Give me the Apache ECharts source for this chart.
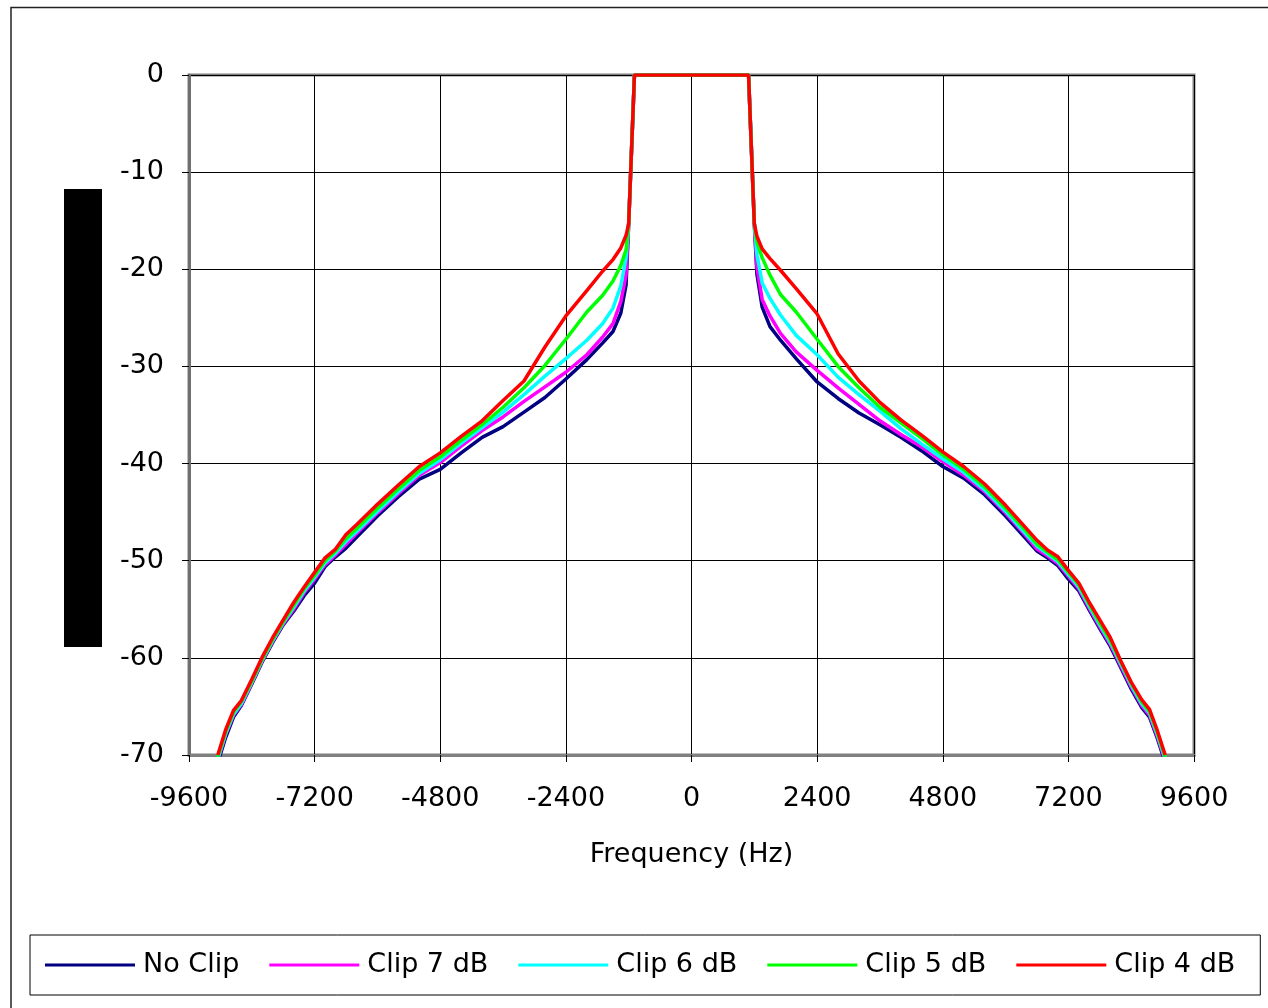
<!DOCTYPE html>
<html>
<head>
<meta charset="utf-8">
<script src="https://cdn.jsdelivr.net/npm/echarts@6/dist/echarts.min.js"></script>
<style>
html,body{margin:0;padding:0;background:#fff;}
#chart{width:1268px;height:1008px;}
</style>
</head>
<body>
<div id="chart"></div>
<script>
// Frequency grid (Hz)
const freqs = [-9050,-8900,-8750,-8600,-8400,-8200,-8000,-7800,-7600,-7400,-7200,-7000,-6800,-6600,-6400,-6000,-5600,-5200,-4800,-4400,-4000,-3600,-3200,-2800,-2400,-2000,-1700,-1500,-1350,-1250,-1200,-1090,
  1090,1200,1250,1350,1500,1700,2000,2400,2800,3200,3600,4000,4400,4800,5200,5600,6000,6400,6600,6800,7000,7200,7400,7600,7800,8000,8200,8400,8600,8750,8900,9050];

const seriesNames = ['No Clip','Clip 7 dB','Clip 6 dB','Clip 5 dB','Clip 4 dB'];
const xTicks = [-9600,-7200,-4800,-2400,0,2400,4800,7200,9600];
const yTicks = [0,-10,-20,-30,-40,-50,-60,-70];

const noClip = [-70.8,-68.2,-66.1,-64.9,-62.7,-60.4,-58.4,-56.6,-55.2,-53.6,-52.3,-50.6,-49.6,-48.7,-47.6,-45.4,-43.4,-41.6,-40.6,-38.9,-37.3,-36.2,-34.7,-33.2,-31.3,-29.3,-27.6,-26.4,-24.5,-21.6,-15.3,0,
  0,-15.3,-20.5,-23.9,-25.9,-27.3,-29.2,-31.6,-33.3,-34.8,-36.0,-37.3,-38.7,-40.3,-41.5,-43.2,-45.4,-47.8,-49.0,-49.7,-50.5,-51.9,-53.1,-55.1,-57.0,-58.8,-61.0,-63.2,-65.1,-66.1,-68.3,-70.8];
const clip7 = [-70.5,-67.9,-65.9,-64.8,-62.6,-60.3,-58.3,-56.5,-55.0,-53.3,-51.9,-50.4,-49.4,-48.3,-47.2,-45.1,-43.1,-41.2,-39.9,-38.2,-36.6,-35.2,-33.6,-32.1,-30.6,-28.8,-27.0,-25.6,-23.3,-20.6,-15.3,0,
  0,-15.3,-19.8,-23.1,-24.8,-26.6,-28.5,-30.4,-32.2,-33.9,-35.6,-37.0,-38.3,-39.8,-41.2,-42.9,-45.1,-47.5,-48.8,-49.5,-50.3,-51.6,-52.9,-54.9,-56.8,-58.6,-60.8,-63.0,-64.9,-65.9,-68.1,-70.6];
const clip6 = [-70.4,-67.8,-65.8,-64.7,-62.5,-60.2,-58.2,-56.4,-54.8,-53.1,-51.7,-50.2,-49.2,-48.0,-47.0,-44.9,-42.9,-41.0,-39.6,-37.9,-36.3,-34.7,-32.9,-31.0,-29.2,-27.3,-25.6,-24.0,-21.7,-18.8,-15.3,0,
  0,-15.3,-18.5,-21.4,-23.0,-24.7,-26.8,-28.8,-31.1,-32.9,-34.6,-36.4,-38.0,-39.5,-40.9,-42.7,-44.9,-47.3,-48.5,-49.3,-50.1,-51.4,-52.7,-54.7,-56.6,-58.4,-60.6,-62.8,-64.7,-65.7,-67.9,-70.4];
const clip5 = [-70.2,-67.6,-65.6,-64.5,-62.4,-60.1,-58.1,-56.3,-54.6,-52.9,-51.5,-50.0,-49.0,-47.7,-46.7,-44.6,-42.6,-40.7,-39.3,-37.6,-36.0,-34.2,-32.2,-29.9,-27.2,-24.4,-22.7,-21.2,-19.6,-18.0,-15.3,0,
  0,-15.3,-17.2,-18.8,-20.6,-22.6,-24.4,-27.2,-30.0,-32.2,-34.2,-35.8,-37.4,-39.1,-40.6,-42.4,-44.6,-47.0,-48.3,-49.1,-49.9,-51.2,-52.5,-54.5,-56.4,-58.2,-60.4,-62.6,-64.5,-65.5,-67.7,-70.2];
const clip4 = [-70.0,-67.4,-65.4,-64.4,-62.2,-59.9,-57.9,-56.1,-54.3,-52.7,-51.2,-49.7,-48.8,-47.3,-46.3,-44.2,-42.2,-40.3,-38.9,-37.2,-35.6,-33.5,-31.5,-28.0,-24.8,-22.2,-20.2,-19.0,-17.8,-16.5,-15.3,0,
  0,-15.3,-16.6,-17.9,-18.9,-20.1,-22.0,-24.6,-28.7,-31.5,-33.7,-35.5,-37.1,-38.8,-40.3,-42.1,-44.3,-46.7,-47.9,-48.9,-49.6,-51.0,-52.3,-54.3,-56.1,-57.9,-60.3,-62.5,-64.3,-65.3,-67.5,-70.0];

const seriesValues = [noClip, clip7, clip6, clip5, clip4];
const colors = ['#000080','#FF00FF','#00FFFF','#00FF00','#FF0000'];

const FONT = 'DejaVu Sans';
const chart = echarts.init(document.getElementById('chart'), null, {renderer:'canvas'});

const series = seriesNames.map((name, i) => ({
  name: name,
  type: 'line',
  data: freqs.map((f, j) => [f, seriesValues[i][j]]),
  symbol: 'none',
  showSymbol: false,
  smooth: false,
  clip: true,
  animation: false,
  lineStyle: {color: colors[i], width: 3.5},
  itemStyle: {color: colors[i]},
  z: 2 + i
}));

chart.setOption({
  animation: false,
  backgroundColor: '#ffffff',
  textStyle: {fontFamily: FONT},
  grid: {
    left: 189, right: 74, top: 75, bottom: 253,
    show: true, borderColor: '#808080', borderWidth: 3, backgroundColor: 'transparent'
  },
  xAxis: {
    type: 'value',
    min: -9600, max: 9600, interval: 2400,
    name: 'Frequency (Hz)',
    nameLocation: 'middle',
    nameGap: 86,
    nameTextStyle: {fontFamily: FONT, fontSize: 27, color: '#000'},
    axisLine: {show: true, onZero: false, lineStyle: {color: '#808080', width: 3}},
    axisTick: {show: true, length: 7, lineStyle: {color: '#000', width: 1}},
    axisLabel: {fontFamily: FONT, fontSize: 27, color: '#000', margin: 30,
      formatter: v => (xTicks.includes(v) ? String(v) : '')},
    splitLine: {show: true, lineStyle: {color: '#000', width: 1}}
  },
  yAxis: {
    type: 'value',
    min: -70, max: 0, interval: 10,
    axisLine: {show: true, onZero: false, lineStyle: {color: '#707070', width: 3}},
    axisTick: {show: true, length: 7, lineStyle: {color: '#000', width: 1}},
    axisLabel: {fontFamily: FONT, fontSize: 27, color: '#000', margin: 25, padding: [5, 0, 0, 0],
      formatter: v => (yTicks.includes(v) ? String(v) : '')},
    splitLine: {show: true, lineStyle: {color: '#000', width: 1}}
  },
  legend: {
    show: true,
    left: 30, top: 935,
    orient: 'horizontal',
    icon: 'rect',
    itemWidth: 90, itemHeight: 3, itemGap: 30,
    padding: [14, 25, 14, 15],
    borderColor: '#000', borderWidth: 1,
    textStyle: {fontFamily: FONT, fontSize: 27, color: '#000', lineHeight: 32, padding: [0,0,0,3]},
    data: seriesNames
  },
  graphic: [
    {type: 'rect', shape: {x: 11, y: 7.5, width: 1400, height: 1100},
     style: {fill: 'none', stroke: '#222', lineWidth: 1.5}, silent: true, z: 100},
    {type: 'rect', shape: {x: 64, y: 189, width: 38, height: 458},
     style: {fill: '#000'}, silent: true, z: 100}
  ],
  series: series
});
</script>
</body>
</html>
